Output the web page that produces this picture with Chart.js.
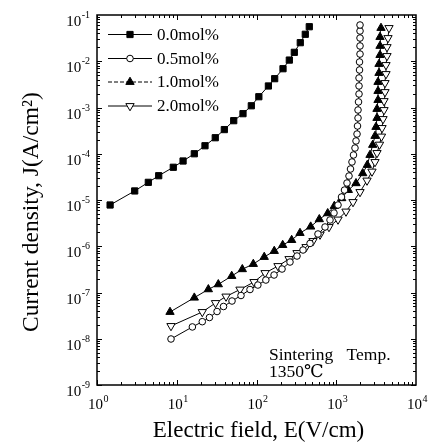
<!DOCTYPE html>
<html><head><meta charset="utf-8">
<script src="https://cdn.jsdelivr.net/npm/chart.js@4.4.1/dist/chart.umd.min.js"></script>
<style>html,body{margin:0;padding:0;background:#fff}canvas{display:block}</style>
</head><body>
<canvas id="c" width="429" height="445"></canvas>
<script>
// ---- data ----
const seriesLabels = ['0.0mol%', '0.5mol%', '1.0mol%', '2.0mol%'];

const field00 = [1.46, 2.97, 4.40, 5.94, 9.05, 12.0, 16.6, 22.6, 30.4, 39.5, 51.8, 67.7, 86.1, 107, 141, 169, 215, 258, 298, 354, 409, 459];
const current00 = [7.8e-6, 1.57e-5, 2.41e-5, 3.35e-5, 5.1e-5, 6.97e-5, 1.0e-4, 1.49e-4, 2.22e-4, 3.33e-4, 5.19e-4, 7.35e-4, 1.09e-3, 1.71e-3, 2.92e-3, 4.2e-3, 6.9e-3, 1.06e-2, 1.56e-2, 2.52e-2, 3.83e-2, 5.58e-2];

const field05 = [8.47, 15.7, 20.9, 25.7, 32.0, 38.6, 49.3, 63.9, 82.9, 104, 131, 166, 209, 263, 322, 383, 469, 590, 723, 835, 937, 1052, 1164, 1269, 1364, 1445, 1509, 1575, 1645, 1718, 1769, 1822, 1847, 1875, 1875, 1902, 1930, 1930, 1930, 1958, 1958, 1986, 1986, 1986, 1986, 1986];
const current05 = [9.88e-9, 1.80e-8, 2.34e-8, 2.88e-8, 3.88e-8, 4.98e-8, 6.55e-8, 8.61e-8, 1.16e-7, 1.45e-7, 1.86e-7, 2.39e-7, 3.22e-7, 4.56e-7, 6.15e-7, 8.30e-7, 1.15e-6, 1.84e-6, 2.61e-6, 3.70e-6, 5.24e-6, 7.80e-6, 1.16e-5, 1.64e-5, 2.33e-5, 3.30e-5, 4.68e-5, 6.64e-5, 9.40e-5, 1.33e-4, 1.89e-4, 2.67e-4, 3.98e-4, 5.93e-4, 8.83e-4, 1.32e-3, 1.96e-3, 2.92e-3, 4.35e-3, 6.47e-3, 9.64e-3, 1.43e-2, 2.14e-2, 3.18e-2, 4.51e-2, 6.08e-2];

const field10 = [8.23, 16.6, 24.9, 33.2, 48.9, 66.4, 91.2, 125, 167, 213, 276, 351, 478, 613, 781, 946, 1170, 1416, 1769, 2147, 2450, 2650, 2864, 3062, 3150, 3243, 3243, 3341, 3341, 3341, 3436, 3436, 3537, 3537, 3537, 3640];
const current10 = [3.79e-8, 7.72e-8, 1.17e-7, 1.50e-7, 2.27e-7, 3.18e-7, 4.13e-7, 5.86e-7, 7.89e-7, 1.06e-6, 1.36e-6, 1.93e-6, 2.65e-6, 3.83e-6, 5.15e-6, 7.41e-6, 1.09e-5, 1.64e-5, 2.30e-5, 3.78e-5, 5.71e-5, 9.4e-5, 1.55e-4, 2.42e-4, 3.79e-4, 5.93e-4, 9.29e-4, 1.45e-3, 2.27e-3, 3.56e-3, 5.57e-3, 8.72e-3, 1.36e-2, 2.14e-2, 3.34e-2, 5.24e-2];

const field20 = [8.47, 20.9, 30.6, 41.5, 62.1, 93.0, 128, 186, 256, 322, 418, 511, 626, 811, 1052, 1325, 1622, 1986, 2431, 2806, 3062, 3243, 3486, 3690, 3749, 3857, 3970, 3970, 4085, 4085, 4205, 4205, 4328, 4328, 4455, 4585];
const current20 = [1.89e-8, 3.79e-8, 5.93e-8, 8.2e-8, 1.16e-7, 1.69e-7, 2.64e-7, 3.74e-7, 5.30e-7, 7.15e-7, 9.64e-7, 1.30e-6, 1.79e-6, 2.61e-6, 3.79e-6, 5.64e-6, 9.05e-6, 1.49e-5, 2.64e-5, 4.13e-5, 6.64e-5, 1.04e-4, 1.58e-4, 2.36e-4, 3.61e-4, 5.64e-4, 8.83e-4, 1.38e-3, 2.16e-3, 3.39e-3, 5.30e-3, 8.30e-3, 1.30e-2, 2.03e-2, 3.18e-2, 5.24e-2];

const xTickValues = [1, 10, 100, 1000, 10000];
const xTickExponents = ['0', '1', '2', '3', '4'];
const yTickValues = [1e-9, 1e-8, 1e-7, 1e-6, 1e-5, 1e-4, 1e-3, 1e-2, 1e-1];
const yTickExponents = ['-9', '-8', '-7', '-6', '-5', '-4', '-3', '-2', '-1'];
const tickBase = '10';
const xTitle = 'Electric field, E(V/cm)';
const yTitle = 'Current density, J(A/cm\u00B2)';
const noteLines = ['Sintering Temp.', '1350\u2103'];

// ---- chart ----
const SERIF = "'Liberation Serif', 'Times New Roman', 'DejaVu Serif', serif";
const pts = (xs, ys) => xs.map((x, i) => ({ x: x, y: ys[i] }));

const styles = [
  { pointStyle: 'rect', radius: 4.4, rotation: 0, fill: '#000', dash: [] },
  { pointStyle: 'circle', radius: 3.3, rotation: 0, fill: '#fff', dash: [] },
  { pointStyle: 'triangle', radius: 4.8, rotation: 0, fill: '#000', dash: [4, 2] },
  { pointStyle: 'triangle', radius: 4.8, rotation: 180, fill: '#fff', dash: [] }
];
const seriesData = [pts(field00, current00), pts(field05, current05), pts(field10, current10), pts(field20, current20)];

const datasets = seriesData.map((d, i) => ({
  label: seriesLabels[i],
  data: d,
  showLine: true,
  borderColor: '#000',
  borderWidth: 1,
  pointStyle: styles[i].pointStyle,
  pointRadius: styles[i].radius,
  pointRotation: styles[i].rotation,
  pointBackgroundColor: styles[i].fill,
  pointBorderColor: '#000',
  pointBorderWidth: 1,
  legendDash: styles[i].dash,
  tension: 0
}));

const framePlugin = {
  id: 'frame',
  afterDatasetsDraw(chart) {
    const { ctx, chartArea: a, scales } = chart;
    const xs = scales.x, ys = scales.y;
    ctx.save();
    ctx.strokeStyle = '#000';
    ctx.lineWidth = 1.5;
    ctx.strokeRect(a.left, a.top, a.right - a.left, a.bottom - a.top);
    ctx.lineWidth = 1;
    ctx.beginPath();
    for (let e = 0; e < 4; e++) {
      for (let m = 1; m <= 9; m++) {
        const v = m * Math.pow(10, e);
        const px = Math.round(xs.getPixelForValue(v)) + 0.5;
        const len = m === 1 ? 5 : 3;
        ctx.moveTo(px, a.bottom); ctx.lineTo(px, a.bottom - len);
        ctx.moveTo(px, a.top); ctx.lineTo(px, a.top + len);
      }
    }
    for (let e = -9; e < -1; e++) {
      for (let m = 1; m <= 9; m++) {
        const v = m * Math.pow(10, e);
        const py = Math.round(ys.getPixelForValue(v)) + 0.5;
        const len = m === 1 ? 5 : 3;
        ctx.moveTo(a.left, py); ctx.lineTo(a.left + len, py);
        ctx.moveTo(a.right, py); ctx.lineTo(a.right - len, py);
      }
    }
    ctx.stroke();
    ctx.restore();
  },
  afterDraw(chart) {
    const { ctx, chartArea: a, scales } = chart;
    ctx.save();
    ctx.fillStyle = '#000';
    ctx.textBaseline = 'alphabetic';
    const baseFont = '15px ' + SERIF, expFont = '10px ' + SERIF;
    // x tick labels: "10" with raised exponent, centred on the tick
    xTickValues.forEach((v, i) => {
      const px = scales.x.getPixelForValue(v);
      ctx.font = baseFont; const wb = ctx.measureText(tickBase).width;
      ctx.font = expFont; const we = ctx.measureText(xTickExponents[i]).width;
      const x0 = px + 1 - (wb + we) / 2;
      ctx.textAlign = 'left';
      ctx.font = baseFont; ctx.fillText(tickBase, x0, 409);
      ctx.font = expFont; ctx.fillText(xTickExponents[i], x0 + wb + 0.5, 402);
    });
    // y tick labels, right aligned
    yTickValues.forEach((v, i) => {
      const py = scales.y.getPixelForValue(v);
      ctx.font = expFont; const we = ctx.measureText(yTickExponents[i]).width;
      ctx.textAlign = 'right';
      ctx.fillText(yTickExponents[i], 90, py + 3);
      ctx.font = baseFont; ctx.fillText(tickBase, 90 - we - 0.5, py + 11);
    });
    // legend
    const rows = [34.5, 58.5, 82, 106];
    chart.data.datasets.forEach((ds, i) => {
      const y = rows[i];
      ctx.strokeStyle = '#000';
      ctx.lineWidth = 1;
      ctx.setLineDash(ds.legendDash);
      ctx.beginPath(); ctx.moveTo(108, y); ctx.lineTo(152, y); ctx.stroke();
      ctx.setLineDash([]);
      ctx.fillStyle = ds.pointBackgroundColor;
      Chart.helpers.drawPoint(ctx, { pointStyle: ds.pointStyle, radius: ds.pointRadius, rotation: ds.pointRotation, borderWidth: 1 }, 130, y);
      ctx.fillStyle = '#000';
      ctx.font = '17px ' + SERIF;
      ctx.textAlign = 'left';
      ctx.textBaseline = 'middle';
      ctx.fillText(ds.label, 157, y + 1);
    });
    // note
    ctx.font = '17.5px ' + SERIF;
    ctx.textAlign = 'left';
    ctx.textBaseline = 'alphabetic';
    if ('wordSpacing' in ctx) ctx.wordSpacing = '9px';
    ctx.fillText(noteLines[0], 269, 360);
    if ('wordSpacing' in ctx) ctx.wordSpacing = '0px';
    ctx.fillText(noteLines[1], 269, 377);
    // axis titles
    ctx.font = '23px ' + SERIF;
    ctx.textAlign = 'center';
    ctx.textBaseline = 'middle';
    ctx.fillText(xTitle, (a.left + a.right) / 2 + 2, 431);
    ctx.translate(32, 212);
    ctx.rotate(-Math.PI / 2);
    ctx.font = '23.5px ' + SERIF;
    ctx.fillText(yTitle, 0, 0);
    ctx.restore();
  }
};

new Chart(document.getElementById('c'), {
  type: 'scatter',
  data: { datasets: datasets },
  options: {
    responsive: false,
    animation: false,
    events: [],
    layout: { padding: { top: 15, right: 13, left: 0, bottom: 0 } },
    plugins: { legend: { display: false }, tooltip: { enabled: false } },
    scales: {
      x: {
        type: 'logarithmic', min: 1, max: 10000,
        grid: { display: false, drawTicks: false },
        border: { display: false },
        afterBuildTicks: s => { s.ticks = xTickValues.map(v => ({ value: v, major: true })); },
        afterFit: s => { s.height = 60; },
        ticks: { display: false }
      },
      y: {
        type: 'logarithmic', min: 1e-9, max: 1e-1,
        grid: { display: false, drawTicks: false },
        border: { display: false },
        afterBuildTicks: s => { s.ticks = yTickValues.map(v => ({ value: v, major: true })); },
        afterFit: s => { s.width = 97; },
        ticks: { display: false }
      }
    }
  },
  plugins: [framePlugin]
});
</script>
</body></html>
